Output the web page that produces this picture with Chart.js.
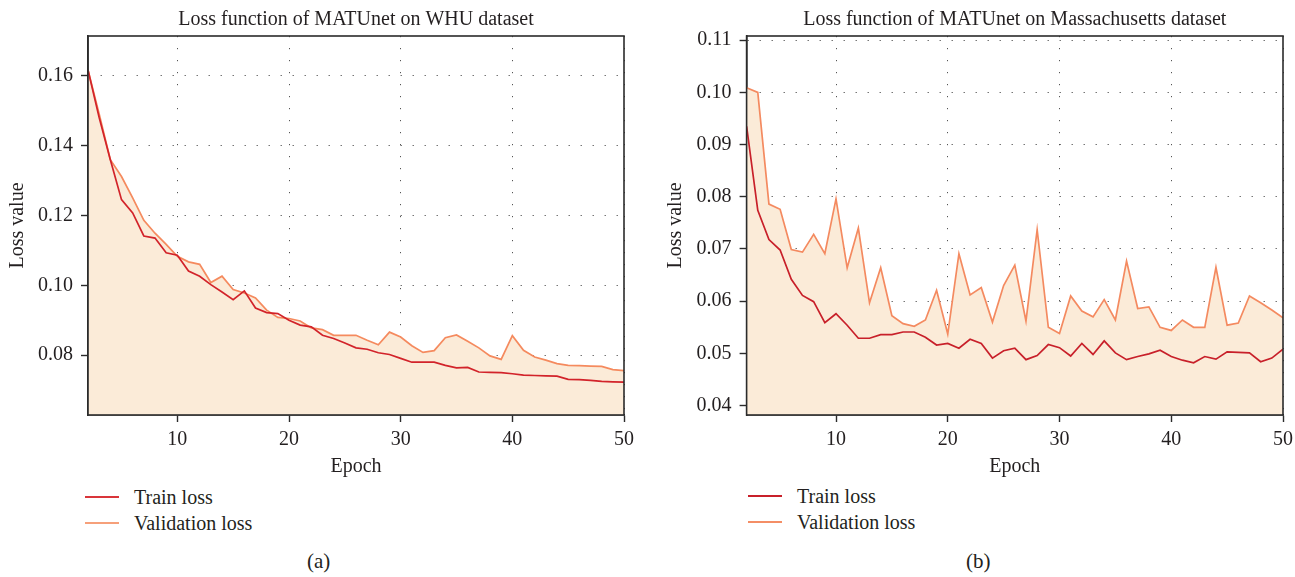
<!DOCTYPE html>
<html>
<head>
<meta charset="utf-8">
<script src="https://cdn.jsdelivr.net/npm/chart.js@4/dist/chart.umd.min.js"></script>
<style>
  body { margin: 0; background: #fff; width: 1295px; height: 577px; position: relative; overflow: hidden;
         font-family: "Liberation Serif", "DejaVu Serif", serif; color: #231f20; }
  canvas { position: absolute; top: 0; }
  #leftChart { left: 0; }
  #rightChart { left: 658px; }
  .legend { position: absolute; font-size: 20px; line-height: 26px; }
  .legend div { position: relative; padding-left: 49px; white-space: nowrap; }
  .legend span { position: absolute; left: 0; top: 12px; width: 34px; height: 1.5px; }
  .sub { position: absolute; top: 549px; font-size: 21px; }
</style>
</head>
<body>
<canvas id="leftChart" width="650" height="480"></canvas>
<canvas id="rightChart" width="637" height="480"></canvas>

<div class="legend" style="left:85px; top:484px;">
  <div><span style="background:#d9353a"></span>Train loss</div>
  <div><span style="background:#f6a07a"></span>Validation loss</div>
</div>
<div class="legend" style="left:748px; top:483px;">
  <div><span style="background:#c8202a"></span>Train loss</div>
  <div><span style="background:#f48e66"></span>Validation loss</div>
</div>
<div class="sub" style="left:307px;">(a)</div>
<div class="sub" style="left:966px;">(b)</div>

<script>
// epochs (x axis), same for both panels
const epochs = [2, 3, 4, 5, 6, 7, 8, 9, 10, 11, 12, 13, 14, 15, 16, 17, 18, 19, 20, 21, 22, 23, 24, 25,
    26, 27, 28, 29, 30, 31, 32, 33, 34, 35, 36, 37, 38, 39, 40, 41, 42, 43, 44, 45, 46, 47, 48, 49, 50];

// (a) WHU dataset
const whuTrain = [0.1616, 0.148, 0.1359, 0.1245, 0.1207, 0.1141, 0.1135, 0.1093, 0.1086, 0.1041,
    0.1026, 0.1002, 0.0981, 0.0959, 0.0984, 0.0935, 0.0922, 0.0919, 0.0900, 0.0886,
    0.0881, 0.0857, 0.0848, 0.0835, 0.0821, 0.0817, 0.0807, 0.0802, 0.0791, 0.0780,
    0.0780, 0.0780, 0.0771, 0.0764, 0.0765, 0.0752, 0.0751, 0.0750, 0.0747, 0.0743,
    0.0742, 0.0741, 0.0740, 0.0731, 0.0730, 0.0728, 0.0725, 0.0724, 0.0723];
const whuVal = [0.1616, 0.149, 0.1359, 0.1311, 0.1250, 0.1186, 0.1149, 0.1117, 0.1083, 0.1067,
    0.1060, 0.1008, 0.1026, 0.0988, 0.0978, 0.0964, 0.0929, 0.0908, 0.0905, 0.0898,
    0.0878, 0.0873, 0.0857, 0.0857, 0.0857, 0.0843, 0.0830, 0.0866, 0.0852, 0.0827,
    0.0808, 0.0813, 0.0850, 0.0858, 0.0840, 0.0821, 0.0798, 0.0788, 0.0856, 0.0814,
    0.0795, 0.0786, 0.0776, 0.0771, 0.0770, 0.0769, 0.0768, 0.0759, 0.0756];
const whuTicksY = [0.08, 0.10, 0.12, 0.14, 0.16];

// (b) Massachusetts dataset
const masTrain = [0.0935, 0.0774, 0.0718, 0.0698, 0.0642, 0.0611, 0.0599, 0.0559, 0.0576, 0.0554,
    0.0529, 0.0529, 0.0536, 0.0536, 0.0541, 0.0541, 0.0531, 0.0516, 0.0519, 0.0510,
    0.0527, 0.0519, 0.0491, 0.0505, 0.0510, 0.0488, 0.0496, 0.0517, 0.0511, 0.0495,
    0.0519, 0.0498, 0.0524, 0.0501, 0.0488, 0.0494, 0.0499, 0.0506, 0.0494, 0.0487,
    0.0482, 0.0494, 0.0489, 0.0503, 0.0502, 0.0501, 0.0484, 0.0491, 0.0508];
const masVal = [0.1009, 0.1000, 0.0786, 0.0776, 0.0699, 0.0694, 0.0728, 0.0691, 0.0796, 0.0664,
    0.0740, 0.0597, 0.0664, 0.0572, 0.0557, 0.0552, 0.0564, 0.0621, 0.0537, 0.0691,
    0.0612, 0.0626, 0.0560, 0.0630, 0.0669, 0.0562, 0.0737, 0.0550, 0.0538, 0.0610,
    0.0581, 0.0570, 0.0603, 0.0564, 0.0677, 0.0586, 0.0589, 0.0550, 0.0544, 0.0564,
    0.0550, 0.0550, 0.0665, 0.0554, 0.0558, 0.0610, 0.0597, 0.0583, 0.0568];
const masTicksY = [0.04, 0.05, 0.06, 0.07, 0.08, 0.09, 0.10, 0.11];

const xTicks = [10, 20, 30, 40, 50];

const FONT = "'Liberation Serif', 'DejaVu Serif', serif";
const TEXT = '#231f20';

// cadre complet autour de la zone de tracé
const boxPlugin = {
    id: 'box',
    afterDatasetsDraw(chart) {
        const a = chart.chartArea;
        const ctx = chart.ctx;
        ctx.save();
        ctx.strokeStyle = '#2b2b2b';
        ctx.lineWidth = 1.6;
        ctx.strokeRect(a.left, a.top, a.right - a.left, a.bottom - a.top);
        ctx.restore();
    }
};

function makeChart(id, title, train, val, yTicks, yMin, yMax, rightPad, yWidth, trainColor, valColor) {
    const pts = arr => arr.map((v, i) => ({ x: epochs[i], y: v }));
    return new Chart(document.getElementById(id), {
        type: 'line',
        data: {
            datasets: [
                {
                    label: 'Train loss',
                    data: pts(train),
                    borderColor: trainColor,
                    borderWidth: 1.7,
                    pointRadius: 0,
                    tension: 0,
                    fill: false
                },
                {
                    label: 'Validation loss',
                    data: pts(val),
                    borderColor: valColor,
                    backgroundColor: '#fbebd8',
                    borderWidth: 1.7,
                    pointRadius: 0,
                    tension: 0,
                    fill: 'start'
                }
            ]
        },
        options: {
            responsive: false,
            animation: false,
            layout: { padding: { left: 0, right: rightPad, top: 0, bottom: 0 } },
            plugins: {
                legend: { display: false },
                tooltip: { enabled: false },
                title: {
                    display: true,
                    text: title,
                    fullSize: false,
                    color: TEXT,
                    font: { family: FONT, size: 20, weight: 'normal' },
                    padding: { top: 8, bottom: 4 }
                }
            },
            scales: {
                x: {
                    type: 'linear',
                    min: 2,
                    max: 50,
                    afterBuildTicks: s => { s.ticks = xTicks.map(v => ({ value: v })); },
                    afterFit: s => { s.height = 65; s.paddingLeft = 0; s.paddingRight = 0; },
                    ticks: {
                        color: TEXT,
                        padding: 6,
                        maxRotation: 0,
                        font: { family: FONT, size: 20 }
                    },
                    grid: {
                        color: '#555',
                        lineWidth: 1,
                        tickColor: '#2b2b2b',
                        tickLength: 7,
                        tickWidth: 1.4,
                        tickBorderDash: []
                    },
                    border: { display: true, color: '#2b2b2b', width: 1.6, dash: [1.2, 10.8] },
                    title: {
                        display: true,
                        text: 'Epoch',
                        color: TEXT,
                        font: { family: FONT, size: 20 },
                        padding: { top: 0, bottom: 1 }
                    }
                },
                y: {
                    type: 'linear',
                    min: yMin,
                    max: yMax,
                    afterBuildTicks: s => { s.ticks = yTicks.map(v => ({ value: v })); },
                    afterFit: s => { s.width = yWidth; s.paddingTop = 0; s.paddingBottom = 0; },
                    ticks: {
                        color: TEXT,
                        padding: 8,
                        font: { family: FONT, size: 20 },
                        callback: v => v.toFixed(2)
                    },
                    grid: {
                        color: '#555',
                        lineWidth: 1,
                        tickColor: '#2b2b2b',
                        tickLength: 7,
                        tickWidth: 1.4,
                        tickBorderDash: []
                    },
                    border: { display: true, color: '#2b2b2b', width: 1.6, dash: [1.2, 10.8] },
                    title: {
                        display: true,
                        text: 'Loss value',
                        color: TEXT,
                        font: { family: FONT, size: 20 },
                        padding: { top: 6, bottom: 0 }
                    }
                }
            }
        },
        plugins: [boxPlugin]
    });
}

makeChart('leftChart', 'Loss function of MATUnet on WHU dataset', whuTrain, whuVal, whuTicksY,
    0.0629, 0.1713, 650 - 624, 88, '#d2232a', '#f58a5e');
makeChart('rightChart', 'Loss function of MATUnet on Massachusetts dataset', masTrain, masVal, masTicksY,
    0.0382, 0.1108, 637 - 625, 88.6, '#c8202a', '#f48a60');
</script>
</body>
</html>
